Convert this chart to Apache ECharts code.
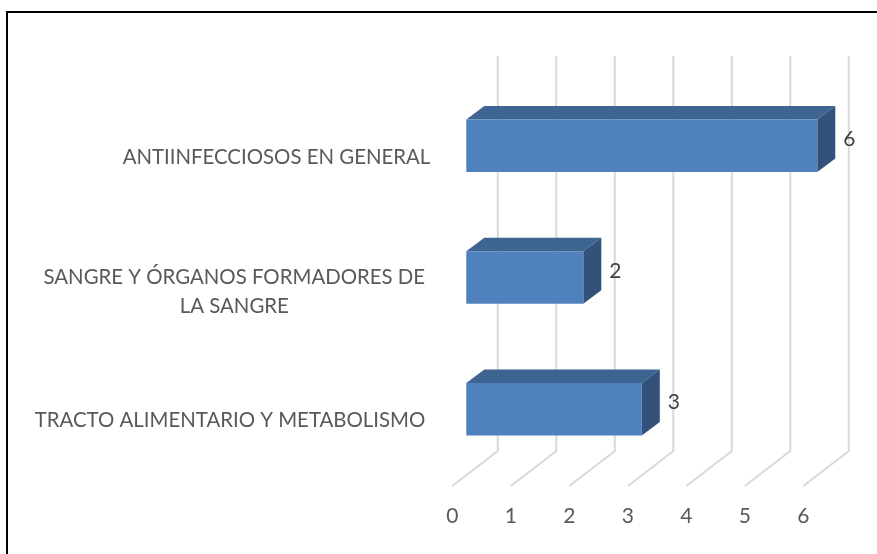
<!DOCTYPE html>
<html>
<head>
<meta charset="utf-8">
<style>
  html, body { margin: 0; padding: 0; background: #fff; }
  #main { width: 877px; height: 554px; }
</style>
<script src="https://cdn.jsdelivr.net/npm/echarts@6/dist/echarts.min.js"></script>
</head>
<body>
<div id="main"></div>
<script>
// bottom to top, same order as the sheet
const categories = [
  'TRACTO ALIMENTARIO Y METABOLISMO',
  'SANGRE Y ÓRGANOS FORMADORES DE\nLA SANGRE',
  'ANTIINFECCIOSOS EN GENERAL'
];
const values = [3, 2, 6];
const ticks = [0, 1, 2, 3, 4, 5, 6];

// fake 3d depth of the chart box and of the bars
const wallDx = 45.5, wallDy = -35;
const barShiftX = 14, barShiftY = -11;
const barDx = 18, barDy = -13.5;
const barH = 52.5;

const myChart = echarts.init(document.getElementById('main'));

function renderGridLine(params, api) {
  const x = api.coord([api.value(0), 0])[0];
  const rect = params.coordSys;
  const floorY = rect.y + rect.height;
  return {
    type: 'polyline',
    silent: true,
    shape: { points: [
      [x, floorY],
      [x + wallDx, floorY + wallDy],
      [x + wallDx, rect.y + wallDy]
    ] },
    style: { fill: null, stroke: '#d9d9d9', lineWidth: 2 }
  };
}

function renderBar(params, api) {
  const zero = api.coord([0, api.value(1)]);
  const end = api.coord([api.value(0), api.value(1)]);
  const x0 = zero[0] + barShiftX;
  const x1 = end[0] + barShiftX;
  const top = end[1] + barShiftY - barH / 2;
  const bottom = top + barH;
  return {
    type: 'group',
    children: [
      {
        type: 'polygon',
        shape: { points: [[x0, top], [x0 + barDx, top + barDy], [x1 + barDx, top + barDy], [x1, top]] },
        style: { fill: '#3e6491' }
      },
      {
        type: 'polygon',
        shape: { points: [[x1, top], [x1 + barDx, top + barDy], [x1 + barDx, bottom + barDy], [x1, bottom]] },
        style: { fill: '#32527c' }
      },
      {
        type: 'rect',
        shape: { x: x0, y: top, width: x1 - x0, height: barH },
        style: { fill: '#4f81bd' }
      },
      {
        type: 'text',
        style: {
          x: x1 + barDx + 14,
          y: top + barH / 2 - 6.5,
          text: String(api.value(0)),
          fill: '#404040',
          font: '21px Lato',
          align: 'center',
          verticalAlign: 'middle'
        }
      }
    ]
  };
}

const option = {
  animation: false,
  backgroundColor: '#fff',
  grid: { left: 452.3, right: 877 - 803.3, top: 91, bottom: 554 - 486 },
  xAxis: {
    type: 'value',
    min: 0,
    max: 6,
    interval: 1,
    splitLine: { show: false },
    axisLine: { show: false },
    axisTick: { show: false },
    axisLabel: { margin: 20, color: '#595959', fontSize: 21, fontFamily: 'Lato' }
  },
  yAxis: {
    type: 'category',
    data: categories,
    axisLine: { show: false },
    axisTick: { show: false },
    axisLabel: {
      margin: 22,
      align: 'right',
      formatter: function (name, index) {
        if (name.indexOf('\n') >= 0) {
          return name.split('\n').map(s => '{w|' + s + '}').join('\n');
        }
        return (index === 0 ? '{m|' : '{n|') + name + '}';
      },
      rich: {
        n: { color: '#595959', fontSize: 20.4, fontFamily: 'Lato', padding: [2, 0, 0, 0] },
        m: { color: '#595959', fontSize: 20.4, fontFamily: 'Lato', padding: [0, 5, 0, 0] },
        w: { color: '#595959', fontSize: 20.4, fontFamily: 'Lato', width: 380, align: 'center', lineHeight: 29, padding: [6, 6, 0, 0] }
      }
    }
  },
  graphic: [{
    type: 'polyline',
    silent: true,
    shape: { points: [[7, 554], [7, 12], [877, 12]] },
    style: { fill: null, stroke: '#000', lineWidth: 2 }
  }],
  series: [
    {
      type: 'custom',
      silent: true,
      clip: false,
      z: 1,
      renderItem: renderGridLine,
      encode: { x: 0 },
      data: ticks.map(t => [t])
    },
    {
      type: 'custom',
      silent: true,
      clip: false,
      z: 2,
      renderItem: renderBar,
      encode: { x: 0, y: 1 },
      data: values.map((v, i) => [v, i])
    }
  ]
};

option && myChart.setOption(option);
</script>
</body>
</html>
